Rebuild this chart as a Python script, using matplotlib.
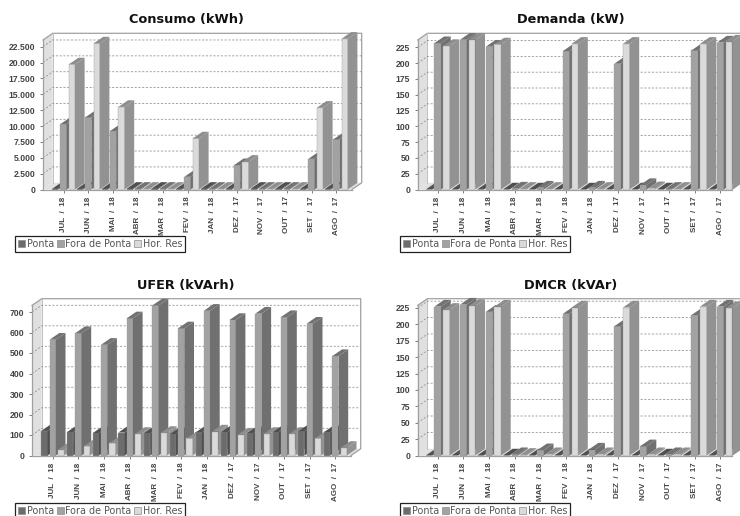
import matplotlib
matplotlib.use("Agg")
import matplotlib.pyplot as plt
from matplotlib.patches import Patch, Polygon

W, H = 740, 516

months = ['JUL  /  18', 'JUN  /  18', 'MAI  /  18', 'ABR  /  18', 'MAR  /  18', 'FEV  /  18',
          'JAN  /  18', 'DEZ  /  17', 'NOV  /  17', 'OUT  /  17', 'SET  /  17', 'AGO  /  17']
series_names = ['Ponta', 'Fora de Ponta', 'Hor. Res']

consumo_ponta = [100, 100, 100, 100, 100, 100, 100, 100, 100, 100, 100, 100]
consumo_fora = [10300, 11350, 9200, 100, 100, 2000, 100, 3830, 100, 100, 4830, 7880]
consumo_res = [19700, 23000, 13000, 100, 100, 8040, 100, 4360, 100, 100, 12870, 23740]

demanda_ponta = [0, 0, 0, 0, 0, 0, 0, 0, 0, 0, 0, 0]
demanda_fora = [231.5, 237, 226, 1.5, 3, 219, 3, 199, 7, 1, 220, 232.5]
demanda_res = [227, 237, 229.5, 1, 1, 230.5, 1, 230.5, 2, 1, 230.5, 234]

ufer_ponta = [120, 114, 109, 112, 109, 104, 112, 114, 109, 114, 118, 114]
ufer_fora = [565, 597, 540, 669, 732, 620, 706, 661, 692, 675, 643, 485]
ufer_res = [28, 45, 60, 105, 110, 83, 117, 101, 105, 105, 83, 37]

dmcr_ponta = [0, 0, 0, 0, 0, 0, 0, 0, 0, 0, 0, 0]
dmcr_fora = [227, 230, 219, 2, 8, 216, 9, 197, 14, 2, 214, 227]
dmcr_res = [222, 228, 227, 1, 2, 225.6, 2, 225.6, 2, 2, 227, 224.6]

consumo_ticks = [0, 2500, 5000, 7500, 10000, 12500, 15000, 17500, 20000, 22500]
demanda_ticks = [0, 25, 50, 75, 100, 125, 150, 175, 200, 225]
ufer_ticks = [0, 100, 200, 300, 400, 500, 600, 700]

front = ['#6c6c6c', '#a2a2a2', '#dadada']
side = ['#4e4e4e', '#707070', '#929292']
top = ['#505050', '#727272', '#8e8e8e']
DX, DY = 9.7, 6.7


def chart(title, vals, ticks, unit_px, x0, x1, y0, y_top, first, step, bw, sp, title_x, title_y, leg_x, leg_y):
    ax = fig.add_axes([x0 / W, 1 - y0 / H, (x1 - x0) / W, (y0 - y_top) / H], facecolor='none')
    ax.set_xlim((x0 - first) / step, (x1 - first) / step)
    ax.set_ylim(0, (y0 - y_top) / unit_px)
    ddx = DX / step
    ddy = DY / unit_px
    xa, xb = ax.get_xlim()
    ya = ax.get_ylim()[1]

    # walls
    ax.add_patch(Polygon([(xa, 0), (xa + ddx, ddy), (xa + ddx, ya + ddy), (xa, ya)], fc='#e0e0e0', ec='none', clip_on=False, zorder=0.2))
    ax.add_patch(Polygon([(xa, 0), (xa + ddx, ddy), (xb + ddx, ddy), (xb, 0)], fc='#e0e0e0', ec='none', clip_on=False, zorder=0.2))
    ax.plot([xa, xa + ddx, xb + ddx, xb + ddx, xb], [ya, ya + ddy, ya + ddy, ddy, 0], color='#a0a0a0', lw=0.9, clip_on=False, zorder=0.3)
    ax.plot([xa + ddx, xa + ddx], [ddy, ya + ddy], color='#c0c0c0', lw=0.7, clip_on=False, zorder=0.3)
    for t in ticks:
        if t == 0:
            continue
        ax.plot([xa, xa + ddx, xb + ddx], [t, t + ddy, t + ddy], color='#949494', lw=0.6, ls=(0, (2.5, 2)), clip_on=False, zorder=0.4)

    w = bw / step
    off = sp / step
    for i in range(len(months)):
        for k in range(3):
            v = vals[k][i]
            left = i + (k - 1) * off - w / 2
            right = left + w
            ax.bar(left, v, width=w, align='edge', color=front[k], edgecolor='#9a9a9a', lw=0.25, clip_on=False, zorder=2)
            ax.add_patch(Polygon([(right, 0), (right + ddx, ddy), (right + ddx, v + ddy), (right, v)], fc=side[k], lw=0, clip_on=False, zorder=2))
            ax.add_patch(Polygon([(left, v), (left + ddx, v + ddy), (right + ddx, v + ddy), (right, v)], fc=top[k], lw=0, clip_on=False, zorder=2))

    for s in ['top', 'right']:
        ax.spines[s].set_visible(False)
    for s in ['left', 'bottom']:
        ax.spines[s].set_color('#a0a0a0')
        ax.spines[s].set_linewidth(0.9)
    ax.set_yticks(ticks)
    ax.set_yticklabels([f'{t:,}'.replace(',', '.') for t in ticks], fontsize=6.2, fontweight='bold',
                       color='#444444', family='Liberation Sans')
    ax.set_xticks(range(len(months)))
    ax.set_xticklabels(months, rotation=90, fontsize=5.8, fontweight='bold', color='#444444', family='Liberation Sans')
    ax.tick_params(axis='both', length=2.5, width=0.7, color='#808080', pad=3)
    ax.tick_params(axis='x', pad=2.5)

    fig.text(title_x / W, 1 - title_y / H, title, fontsize=9.3, fontweight='bold', ha='center', va='center', color='#111111')

    handles = [Patch(fc=front[k], ec='#8c8c8c', lw=0.5, label=series_names[k]) for k in range(3)]
    leg = ax.legend(handles=handles, loc='upper left', bbox_to_anchor=(leg_x / W, 1 - leg_y / H),
                    bbox_transform=fig.transFigure, ncol=3, fontsize=6.9, fancybox=False, framealpha=1,
                    edgecolor='#222222', borderpad=0.32, borderaxespad=0, handlelength=0.72, handleheight=0.8,
                    handletextpad=0.18, columnspacing=0.28, labelcolor='#555555')
    leg.get_frame().set_linewidth(0.9)


fig = plt.figure(figsize=(W / 100, H / 100), dpi=100, facecolor='white')

chart('Consumo (kWh)', [consumo_ponta, consumo_fora, consumo_res], consumo_ticks, 15.87 / 2500,
      43, 352, 189.5, 40, 63.5, 24.8, 6.2, 8.3, 186, 19, 15, 236)
chart('Demanda (kW)', [demanda_ponta, demanda_fora, demanda_res], demanda_ticks, 15.8 / 25,
      417.7, 731.7, 189.5, 40, 437.7, 25.7, 6.6, 8.6, 571, 19, 400, 236)
chart('UFER (kVArh)', [ufer_ponta, ufer_fora, ufer_res], ufer_ticks, 20.5 / 100,
      32, 351, 455.5, 305.4, 52.7, 25.7, 6.2, 8.3, 186, 285, 15, 503)
chart('DMCR (kVAr)', [dmcr_ponta, dmcr_fora, dmcr_res], demanda_ticks, 16.4 / 25,
      417.7, 731.7, 455.5, 305.4, 437.7, 25.7, 6.6, 8.6, 571, 285, 400, 503)

fig.savefig('out.png', dpi=100)
